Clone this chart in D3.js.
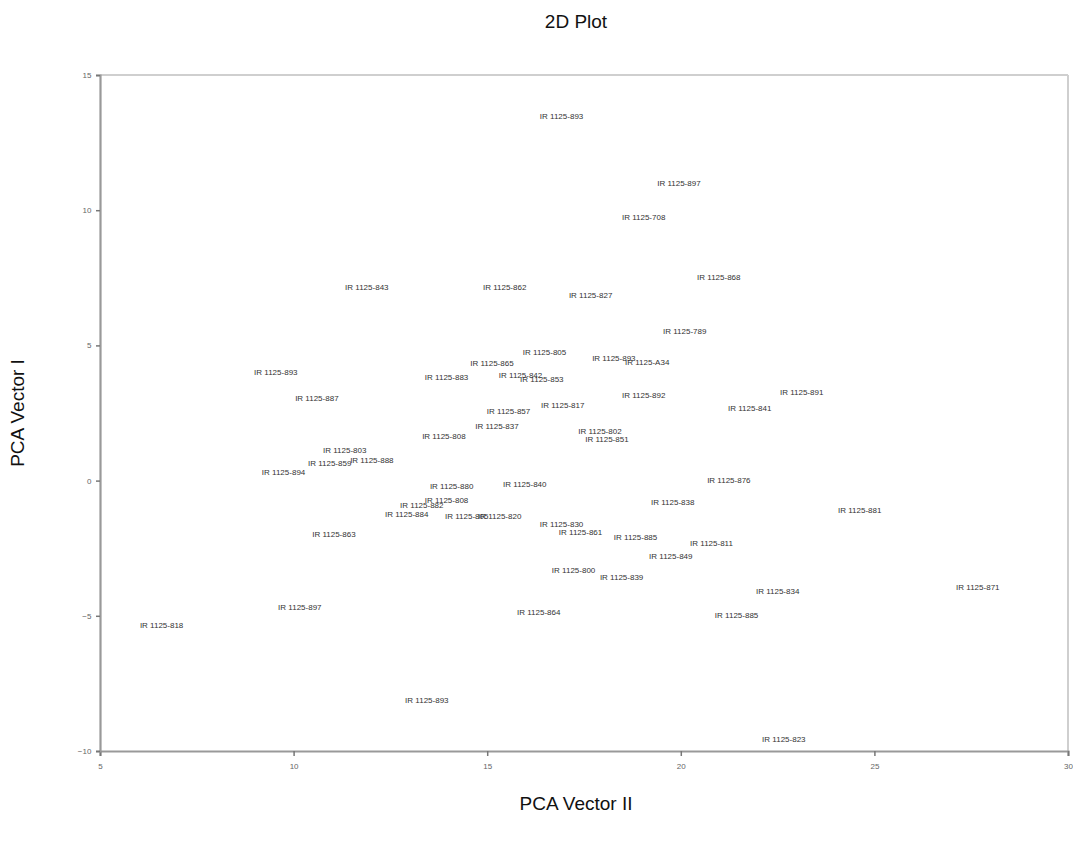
<!DOCTYPE html>
<html>
<head>
<meta charset="utf-8">
<script src="https://cdn.jsdelivr.net/npm/d3@7"></script>
<style>
  body { margin: 0; background: #fff; }
  svg { display: block; font-family: "Liberation Sans", Arial, sans-serif; }
</style>
</head>
<body>
<svg id="chart" width="1073" height="847"></svg>
<script>
// ---- data ----
const labels = [
  "IR 1125-893","IR 1125-897","IR 1125-708","IR 1125-868","IR 1125-843","IR 1125-862",
  "IR 1125-827","IR 1125-789","IR 1125-805","IR 1125-865","IR 1125-893","IR 1125-A34",
  "IR 1125-893","IR 1125-883","IR 1125-842","IR 1125-853","IR 1125-887","IR 1125-891",
  "IR 1125-892","IR 1125-841","IR 1125-817","IR 1125-857","IR 1125-837","IR 1125-808",
  "IR 1125-802","IR 1125-851","IR 1125-803","IR 1125-859","IR 1125-888","IR 1125-894",
  "IR 1125-876","IR 1125-880","IR 1125-840","IR 1125-838","IR 1125-881","IR 1125-808",
  "IR 1125-882","IR 1125-884","IR 1125-805","IR 1125-820","IR 1125-863","IR 1125-830",
  "IR 1125-861","IR 1125-885","IR 1125-811","IR 1125-849","IR 1125-800","IR 1125-839",
  "IR 1125-834","IR 1125-871","IR 1125-897","IR 1125-864","IR 1125-885","IR 1125-818",
  "IR 1125-893","IR 1125-823"
];
const pcaII = [
  16.36, 19.39, 18.48, 20.42, 11.33, 14.89,
  17.11, 19.54, 15.92, 14.56, 17.71, 18.56,
  8.98, 13.39, 15.30, 15.85, 10.04, 22.56,
  18.48, 21.22, 16.39, 14.99, 14.69, 13.32,
  17.35, 17.53, 10.76, 10.37, 11.46, 9.18,
  20.68, 13.52, 15.41, 19.23, 24.06, 13.39,
  12.75, 12.36, 13.91, 14.76, 10.48, 16.36,
  16.85, 18.27, 20.24, 19.18, 16.67, 17.91,
  21.94, 27.11, 9.60, 15.77, 20.88, 6.03,
  12.88, 22.10
];
const pcaI = [
  13.48, 11.01, 9.75, 7.53, 7.16, 7.16,
  6.86, 5.53, 4.76, 4.35, 4.53, 4.39,
  4.02, 3.83, 3.91, 3.76, 3.05, 3.28,
  3.17, 2.68, 2.80, 2.57, 2.02, 1.65,
  1.83, 1.54, 1.13, 0.65, 0.76, 0.32,
  0.02, -0.20, -0.13, -0.79, -1.09, -0.72,
  -0.90, -1.23, -1.31, -1.31, -1.97, -1.60,
  -1.90, -2.09, -2.31, -2.79, -3.31, -3.57,
  -4.09, -3.94, -4.68, -4.86, -4.98, -5.35,
  -8.12, -9.56
];
const xTicks = [5, 10, 15, 20, 25, 30];
const yTicks = [15, 10, 5, 0, -5, -10];
const title = "2D Plot";
const xTitle = "PCA Vector II";
const yTitle = "PCA Vector I";

// ---- layout ----
const svg = d3.select("#chart");
const L = 100, R = 1068, T = 75, B = 751;
const x = d3.scaleLinear().domain([5, 30]).range([L, R]);
const y = d3.scaleLinear().domain([-10, 15]).range([B, T]);

// frame (top/right light)
svg.append("line").attr("x1", L).attr("x2", R).attr("y1", T).attr("y2", T)
  .attr("stroke", "#cfcfcf").attr("stroke-width", 2);
svg.append("line").attr("x1", R).attr("x2", R).attr("y1", T).attr("y2", B)
  .attr("stroke", "#cfcfcf").attr("stroke-width", 2);

// axes
const xAxis = svg.append("g").attr("transform", `translate(0,${B})`)
  .call(d3.axisBottom(x).tickValues(xTicks).tickSize(5).tickFormat(d3.format("d")));
const yAxis = svg.append("g").attr("transform", `translate(${L},0)`)
  .call(d3.axisLeft(y).tickValues(yTicks).tickSize(4).tickFormat(d3.format("d")));
[xAxis, yAxis].forEach(g => {
  g.select(".domain").attr("stroke", "#999").attr("stroke-width", 2.2);
  g.selectAll(".tick line").attr("stroke", "#777").attr("stroke-width", 1.5);
  g.selectAll(".tick text").attr("fill", "#666").attr("font-size", 8)
    .attr("font-family", "Liberation Sans, Arial, sans-serif");
});
xAxis.selectAll(".tick text").attr("dy", "1.3em");
yAxis.selectAll(".tick text").attr("dx", "-0.2em");

// point labels
const pts = labels.map((l, i) => ({ label: l, px: pcaII[i], py: pcaI[i] }));
svg.append("g").selectAll("text").data(pts).join("text")
  .attr("x", d => x(d.px))
  .attr("y", d => y(d.py))
  .attr("dy", "0.35em")
  .attr("font-size", 8)
  .attr("fill", "#333")
  .text(d => d.label);

// titles
svg.append("text").attr("x", 576).attr("y", 28).attr("text-anchor", "middle")
  .attr("font-size", 19).attr("fill", "#111").text(title);
svg.append("text").attr("x", 576).attr("y", 810).attr("text-anchor", "middle")
  .attr("font-size", 19).attr("fill", "#111").text(xTitle);
svg.append("text").attr("transform", "translate(24,413) rotate(-90)")
  .attr("text-anchor", "middle").attr("font-size", 19).attr("fill", "#111").text(yTitle);
</script>
</body>
</html>
